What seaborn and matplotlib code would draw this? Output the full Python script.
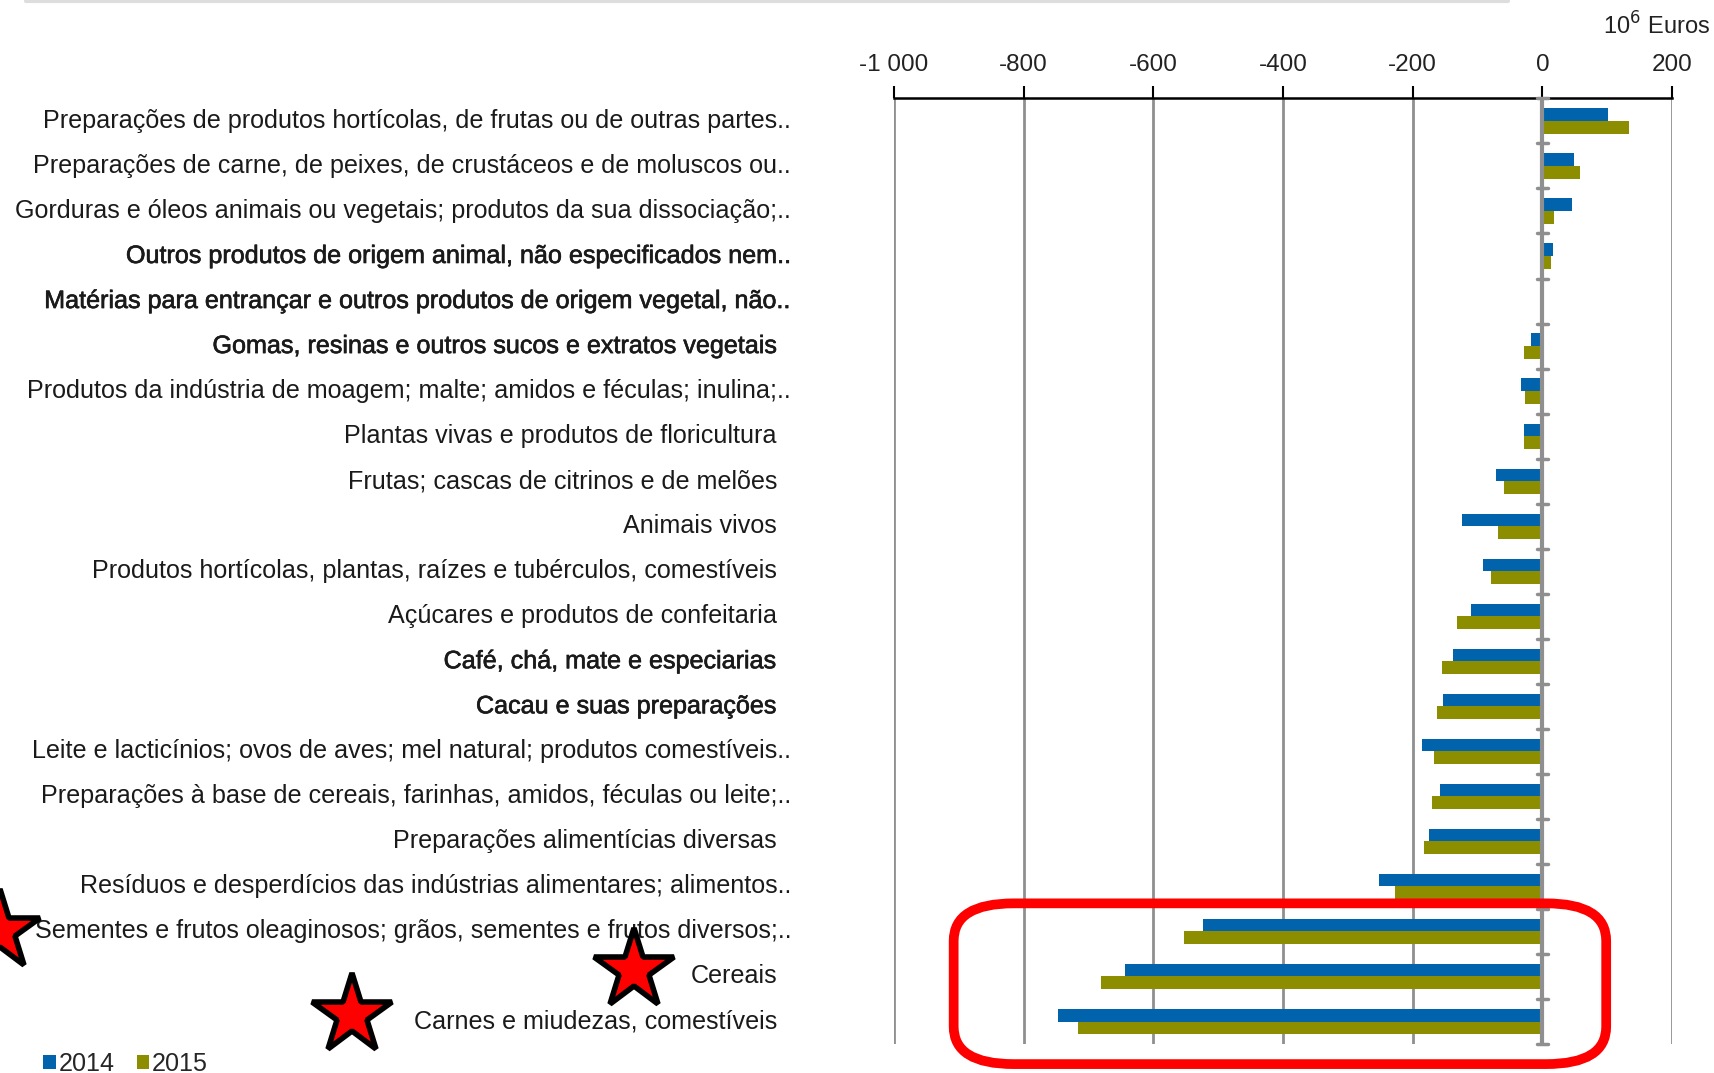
import pandas as pd
import matplotlib
matplotlib.use("Agg")
import matplotlib.pyplot as plt
import matplotlib.patheffects as pe
from matplotlib.patches import FancyBboxPatch, Patch
from matplotlib.lines import Line2D
from matplotlib.transforms import blended_transform_factory
import seaborn as sns

categories = [
    "Preparações de produtos hortícolas, de frutas ou de outras partes..",
    "Preparações de carne, de peixes, de crustáceos e de moluscos ou..",
    "Gorduras e óleos animais ou vegetais; produtos da sua dissociação;..",
    "Outros produtos de origem animal, não especificados nem..",
    "Matérias para entrançar e outros produtos de origem vegetal, não..",
    "Gomas, resinas e outros sucos e extratos vegetais",
    "Produtos da indústria de moagem; malte; amidos e féculas; inulina;..",
    "Plantas vivas e produtos de floricultura",
    "Frutas; cascas de citrinos e de melões",
    "Animais vivos",
    "Produtos hortícolas, plantas, raízes e tubérculos, comestíveis",
    "Açúcares e produtos de confeitaria",
    "Café, chá, mate e especiarias",
    "Cacau e suas preparações",
    "Leite e lacticínios; ovos de aves; mel natural; produtos comestíveis..",
    "Preparações à base de cereais, farinhas, amidos, féculas ou leite;..",
    "Preparações alimentícias diversas",
    "Resíduos e desperdícios das indústrias alimentares; alimentos..",
    "Sementes e frutos oleaginosos; grãos, sementes e frutos diversos;..",
    "Cereais",
    "Carnes e miudezas, comestíveis",
]
bold_labels = [
    "Outros produtos de origem animal, não especificados nem..",
    "Matérias para entrançar e outros produtos de origem vegetal, não..",
    "Gomas, resinas e outros sucos e extratos vegetais",
    "Café, chá, mate e especiarias",
    "Cacau e suas preparações",
]
values_2014 = [101, 49, 46, 16, 0.5, -17, -33, -28, -72, -124, -91, -110,
               -138, -154, -186, -158, -175, -252, -523, -643, -747]
values_2015 = [134, 58, 18, 14, -0.5, -28, -27, -28, -59, -68, -79, -131,
               -155, -163, -167, -170, -182, -228, -553, -680, -716]
years = ["2014", "2015"]
x_ticks = [-1000, -800, -600, -400, -200, 0, 200]
x_tick_labels = ["-1 000", "-800", "-600", "-400", "-200", "0", "200"]
starred = ["Sementes e frutos oleaginosos; grãos, sementes e frutos diversos;..",
           "Cereais", "Carnes e miudezas, comestíveis"]

blue = "#0063AC"
olive = "#8C8E00"

df = pd.DataFrame({
    "categoria": categories * 2,
    "valor": values_2014 + values_2015,
    "ano": [years[0]] * len(categories) + [years[1]] * len(categories),
})

sns.set_style("white")
plt.rcParams["font.family"] = ["Liberation Sans", "DejaVu Sans"]

fig = plt.figure(figsize=(17.14, 10.73), dpi=100)
ax = fig.add_axes([0.5216, 0.027, 0.4539, 0.8813])

sns.barplot(data=df, y="categoria", x="valor", hue="ano", order=categories,
            palette=[blue, olive], width=0.56, orient="h", ax=ax,
            legend=False, saturation=1, linewidth=0)

n = len(categories)
ax.set_xlim(-1000, 200)
ax.set_ylim(n - 0.5, -0.5)

# eixo de cima
ax.xaxis.tick_top()
ax.set_xticks(x_ticks)
ax.set_xticklabels(x_tick_labels, fontsize=17.5, color="#222222")
ax.tick_params(axis="x", direction="out", length=9, width=1.5, color="black", pad=7)
ax.set_xlabel("")
ax.set_ylabel("")
for s in ["right", "bottom", "left"]:
    ax.spines[s].set_visible(False)
ax.spines["top"].set_color("black")
ax.spines["top"].set_linewidth(1.8)

for xv in x_ticks:
    if xv != 0:
        ax.axvline(xv, color="#8f8f8f", lw=2, zorder=0)
ax.axvline(0, color="#8f8f8f", lw=3, zorder=3)
for b in range(n + 1):
    ax.plot([-9, 9], [b - 0.5, b - 0.5], color="#8f8f8f", lw=2.5, zorder=3,
            clip_on=False)

ax.set_yticks([])

# rótulos das categorias
tr = blended_transform_factory(fig.transFigure, ax.transData)
for i, cat in enumerate(categories):
    xpos = 0.4616 if cat.endswith("..") else 0.4533
    kw = {}
    if cat in bold_labels:
        kw["path_effects"] = [pe.withStroke(linewidth=0.45, foreground="#1a1a1a")]
    ax.text(xpos, i, cat, transform=tr, ha="right", va="center",
            fontsize=18.1, color="#1a1a1a", clip_on=False, **kw)

fig.text(0.9355, 0.976, "10$^6$ Euros", fontsize=17, color="#222222",
         ha="left", va="center")

# legenda
handles = [Patch(facecolor=blue, edgecolor="none"),
           Patch(facecolor=olive, edgecolor="none")]
fig.legend(handles, years, loc="lower left", bbox_to_anchor=(0.012, -0.024),
           ncol=2, frameon=False, fontsize=18.1, handlelength=0.5,
           handleheight=0.5, handletextpad=0.1, columnspacing=0.9)

# caixa vermelha
box = FancyBboxPatch((0.5564, 0.0083), 0.3807, 0.1498,
                     boxstyle="round,pad=0,rounding_size=0.035",
                     transform=fig.transFigure, fill=False,
                     edgecolor="#FF0000", linewidth=7, zorder=10)
fig.add_artist(box)

# estrelas
star_pos = {starred[0]: 0.0, starred[1]: 0.370, starred[2]: 0.2053}
for cat, fx in star_pos.items():
    i = categories.index(cat)
    star = Line2D([fx], [i - 0.15 if cat != starred[0] else i], transform=tr,
                  marker="*", markersize=60, markerfacecolor="#FF0000",
                  markeredgecolor="black", markeredgewidth=4, linestyle="none",
                  clip_on=False, zorder=11)
    fig.add_artist(star)

fig.add_artist(Line2D([0.015, 0.88], [0.999, 0.999], transform=fig.transFigure,
                      color="#dddddd", lw=3))

fig.savefig("out.png", dpi=100)
